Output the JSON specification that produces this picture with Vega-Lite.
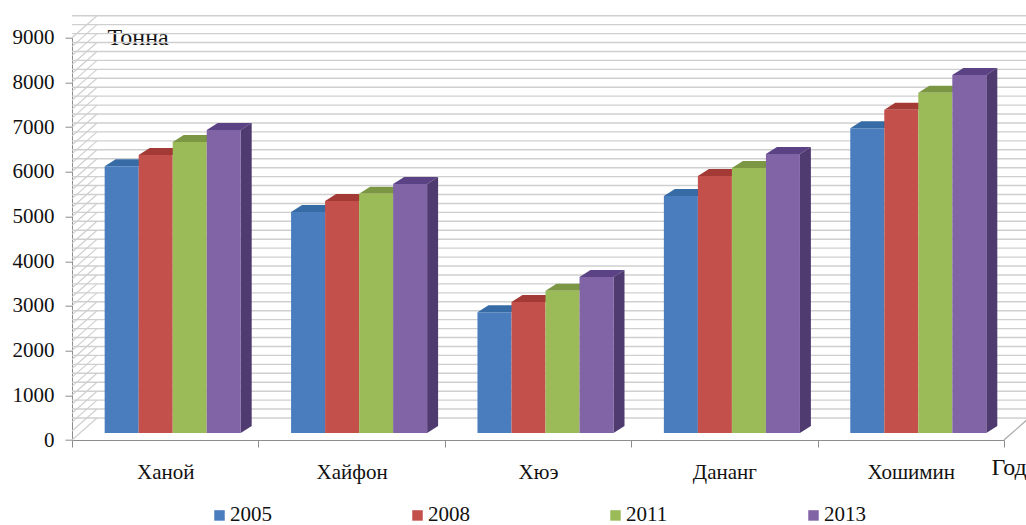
{
  "$schema": "https://vega.github.io/schema/vega-lite/v6.json",
  "width": 932,
  "height": 402.3,
  "autosize": {"type": "none"},
  "padding": {"left": 72, "top": 37.7, "right": 22, "bottom": 85},
  "background": "white",
  "config": {
    "view": {"stroke": null},
    "font": "Liberation Serif",
    "axis": {"labelFont": "Liberation Serif", "titleFont": "Liberation Serif", "labelColor": "#111111", "titleColor": "#111111"},
    "legend": {"labelFont": "Liberation Serif"}
  },
  "datasets": {
    "tons": [
      {"city": "Ханой", "year": "2005", "tons": 5970},
      {"city": "Ханой", "year": "2008", "tons": 6220},
      {"city": "Ханой", "year": "2011", "tons": 6510},
      {"city": "Ханой", "year": "2013", "tons": 6780},
      {"city": "Хайфон", "year": "2005", "tons": 4945},
      {"city": "Хайфон", "year": "2008", "tons": 5190},
      {"city": "Хайфон", "year": "2011", "tons": 5350},
      {"city": "Хайфон", "year": "2013", "tons": 5570},
      {"city": "Хюэ", "year": "2005", "tons": 2700},
      {"city": "Хюэ", "year": "2008", "tons": 2930},
      {"city": "Хюэ", "year": "2011", "tons": 3180},
      {"city": "Хюэ", "year": "2013", "tons": 3490},
      {"city": "Дананг", "year": "2005", "tons": 5300},
      {"city": "Дананг", "year": "2008", "tons": 5750},
      {"city": "Дананг", "year": "2011", "tons": 5930},
      {"city": "Дананг", "year": "2013", "tons": 6240},
      {"city": "Хошимин", "year": "2005", "tons": 6820},
      {"city": "Хошимин", "year": "2008", "tons": 7230},
      {"city": "Хошимин", "year": "2011", "tons": 7610},
      {"city": "Хошимин", "year": "2013", "tons": 8010}
    ],
    "levels": [
      {"v": 0}, {"v": 200}, {"v": 400}, {"v": 600}, {"v": 800}, {"v": 1000}, {"v": 1200}, {"v": 1400}, {"v": 1600}, {"v": 1800},
      {"v": 2000}, {"v": 2200}, {"v": 2400}, {"v": 2600}, {"v": 2800}, {"v": 3000}, {"v": 3200}, {"v": 3400}, {"v": 3600}, {"v": 3800},
      {"v": 4000}, {"v": 4200}, {"v": 4400}, {"v": 4600}, {"v": 4800}, {"v": 5000}, {"v": 5200}, {"v": 5400}, {"v": 5600}, {"v": 5800},
      {"v": 6000}, {"v": 6200}, {"v": 6400}, {"v": 6600}, {"v": 6800}, {"v": 7000}, {"v": 7200}, {"v": 7400}, {"v": 7600}, {"v": 7800},
      {"v": 8000}, {"v": 8200}, {"v": 8400}, {"v": 8600}, {"v": 8800}, {"v": 9000}
    ]
  },
  "layer": [
    {
      "description": "Back wall grid, pushed up and right by the depth of the box",
      "data": {"name": "levels"},
      "mark": {"type": "rule", "stroke": "#cfcfcf", "strokeWidth": 1.4, "xOffset": 25, "x2Offset": 25, "yOffset": -22},
      "encoding": {
        "y": {
          "field": "v", "type": "quantitative",
          "scale": {"domain": [0, 9000], "nice": false},
          "axis": {
            "values": [0, 1000, 2000, 3000, 4000, 5000, 6000, 7000, 8000, 9000],
            "format": "d",
            "grid": false, "domainColor": "#8c8c8c", "tickColor": "#8c8c8c", "tickSize": 7,
            "labelFont": "Liberation Serif", "labelFontSize": 21, "labelPadding": 11,
            "title": "Тонна", "titleFontSize": 24, "titleFontWeight": "normal", "titleAngle": 0,
            "titleAlign": "left", "titleBaseline": "middle", "titleX": 35, "titleY": 0
          }
        }
      }
    },
    {
      "description": "Side wall grid running from the axis to the back wall",
      "data": {"name": "levels"},
      "mark": {"type": "point", "shape": "M0,0L25,-22", "size": 4, "filled": false, "stroke": "#cfcfcf", "strokeWidth": 1.2, "opacity": 1},
      "encoding": {
        "x": {"datum": "Ханой", "bandPosition": 0},
        "y": {"field": "v", "type": "quantitative"}
      }
    },
    {
      "description": "Right-hand floor edge",
      "data": {"values": [{"v": 0}]},
      "mark": {"type": "point", "shape": "M0,0L25,-22", "size": 4, "filled": false, "stroke": "#a8a8a8", "strokeWidth": 1.2, "opacity": 1},
      "encoding": {
        "x": {"datum": "Хошимин", "bandPosition": 1},
        "y": {"field": "v", "type": "quantitative"}
      }
    },
    {
      "description": "Top face of every column",
      "data": {"name": "tons"},
      "mark": {"type": "point", "shape": "M-17,0L17,0L28,-7L-6,-7Z", "size": 4, "filled": true, "opacity": 1, "strokeWidth": 0, "yOffset": -7},
      "encoding": {
        "x": {"field": "city", "type": "nominal"},
        "xOffset": {"field": "year", "type": "nominal"},
        "y": {"field": "tons", "type": "quantitative"},
        "fill": {
          "field": "year", "type": "nominal", "legend": null,
          "scale": {"range": ["#376ba6", "#a33a36", "#7b9743", "#5b4284"]}
        }
      }
    },
    {
      "description": "Right side of the last column in each group: the straight part",
      "data": {"name": "tons"},
      "transform": [{"filter": "datum.year == '2013'"}],
      "mark": {"type": "bar", "width": 11, "fill": "#4f3b70", "xOffset": 81, "yOffset": -7, "y2Offset": -14},
      "encoding": {
        "x": {"field": "city", "type": "nominal"},
        "y": {"field": "tons", "type": "quantitative", "stack": null},
        "y2": {"datum": 0}
      }
    },
    {
      "description": "Right side of the last column: slanted upper end",
      "data": {"name": "tons"},
      "transform": [{"filter": "datum.year == '2013'"}],
      "mark": {"type": "point", "shape": "M17,0L28,-7L28,0Z", "size": 4, "filled": true, "opacity": 1, "strokeWidth": 0, "fill": "#4f3b70", "xOffset": 58.5, "yOffset": -7},
      "encoding": {
        "x": {"field": "city", "type": "nominal"},
        "y": {"field": "tons", "type": "quantitative"}
      }
    },
    {
      "description": "Right side of the last column: slanted foot",
      "data": {"name": "tons"},
      "transform": [{"filter": "datum.year == '2013'"}],
      "mark": {"type": "point", "shape": "M17,0L17,-7L28,-7Z", "size": 4, "filled": true, "opacity": 1, "strokeWidth": 0, "fill": "#4f3b70", "xOffset": 58.5, "yOffset": -7},
      "encoding": {
        "x": {"field": "city", "type": "nominal"},
        "y": {"datum": 0}
      }
    },
    {
      "description": "Front face of every column",
      "data": {"name": "tons"},
      "mark": {"type": "bar", "yOffset": -7, "y2Offset": -7},
      "encoding": {
        "x": {
          "field": "city", "type": "nominal", "sort": null,
          "scale": {"type": "band", "domain": ["Ханой", "Хайфон", "Хюэ", "Дананг", "Хошимин"], "padding": 0},
          "axis": {
            "tickBand": "extent", "labelAngle": 0, "labelAlign": "center", "grid": false,
            "domainColor": "#8c8c8c", "tickColor": "#8c8c8c", "tickSize": 7,
            "labelFontSize": 21, "labelPadding": 25,
            "title": "Год", "titleFontSize": 24, "titleFontWeight": "normal",
            "titleAlign": "left", "titleBaseline": "middle", "titleX": 919, "titleY": 27
          }
        },
        "xOffset": {
          "field": "year", "type": "nominal",
          "scale": {"type": "band", "domain": ["2005", "2008", "2011", "2013"], "paddingInner": 0, "paddingOuter": 0.74, "align": 0.649}
        },
        "y": {"field": "tons", "type": "quantitative", "stack": null},
        "y2": {"datum": 0},
        "color": {
          "field": "year", "type": "nominal",
          "scale": {"domain": ["2005", "2008", "2011", "2013"], "range": ["#4a7dbd", "#c4504c", "#9bbb59", "#8064a6"]},
          "legend": {
            "orient": "none", "direction": "horizontal", "title": null,
            "legendX": 137, "legendY": 467, "columns": 4, "columnPadding": 135,
            "symbolType": "square", "symbolSize": 110, "symbolStrokeWidth": 0,
            "labelFont": "Liberation Serif", "labelFontSize": 21, "labelOffset": 0, "labelColor": "#111111"
          }
        }
      }
    }
  ]
}
